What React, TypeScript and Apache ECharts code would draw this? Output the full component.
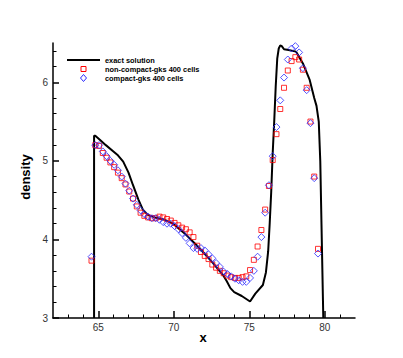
import React, { useEffect, useRef } from "react";
import * as echarts from "echarts";

// exact solution
const exactX = [64.72, 64.72, 64.8, 65.1, 65.5, 66.0, 66.3, 66.65, 67.0, 67.3, 67.65, 67.95, 68.3, 68.75, 69.4, 69.95, 70.7, 71.6, 72.5, 73.25, 73.5, 73.75, 74.0, 74.5, 75.05, 75.4, 75.9, 76.1, 76.25, 76.35, 76.45, 76.55, 76.65, 76.75, 76.85, 76.95, 77.05, 77.15, 77.3, 77.6, 78.1, 78.55, 79.0, 79.3, 79.45, 79.6, 79.7, 79.78, 79.84, 79.9];
const exactY = [3.0, 5.32, 5.32, 5.27, 5.2, 5.12, 5.07, 4.99, 4.85, 4.69, 4.51, 4.38, 4.31, 4.28, 4.25, 4.2, 4.08, 3.91, 3.72, 3.55, 3.47, 3.38, 3.33, 3.28, 3.21, 3.31, 3.42, 3.58, 3.85, 4.2, 4.6, 5.1, 5.5, 5.95, 6.3, 6.43, 6.47, 6.46, 6.42, 6.41, 6.39, 6.24, 6.03, 5.8, 5.7, 5.5, 5.0, 4.2, 3.6, 3.0];

// cell centres (x) shared by both schemes
const cellX = [64.55, 64.8, 65.05, 65.3, 65.55, 65.8, 66.05, 66.3, 66.55, 66.8, 67.05, 67.3, 67.55, 67.8, 68.05, 68.3, 68.55, 68.8, 69.05, 69.3, 69.55, 69.8, 70.05, 70.3, 70.55, 70.8, 71.05, 71.3, 71.55, 71.8, 72.05, 72.3, 72.55, 72.8, 73.05, 73.3, 73.55, 73.8, 74.05, 74.3, 74.55, 74.8, 75.05, 75.3, 75.55, 75.8, 76.05, 76.3, 76.55, 76.8, 77.05, 77.3, 77.55, 77.8, 78.05, 78.3, 78.55, 78.8, 79.05, 79.3, 79.55];
const nonCompactY = [3.73, 5.2, 5.19, 5.1, 5.04, 4.98, 4.92, 4.85, 4.78, 4.7, 4.61, 4.52, 4.42, 4.34, 4.3, 4.28, 4.27, 4.27, 4.29, 4.28, 4.26, 4.24, 4.21, 4.18, 4.15, 4.13, 4.09, 4.03, 3.92, 3.84, 3.79, 3.75, 3.68, 3.64, 3.6, 3.57, 3.54, 3.52, 3.51, 3.51, 3.52, 3.53, 3.61, 3.74, 3.91, 4.12, 4.38, 4.68, 5.01, 5.34, 5.66, 5.93, 6.15, 6.27, 6.32, 6.29, 6.16, 5.93, 5.5, 4.8, 3.88];
const compactY = [3.78, 5.2, 5.2, 5.12, 5.06, 5.0, 4.95, 4.88, 4.8, 4.71, 4.62, 4.52, 4.44, 4.37, 4.32, 4.29, 4.27, 4.27, 4.25, 4.22, 4.2, 4.2, 4.17, 4.13, 4.08, 4.02, 3.95, 3.89, 3.88, 3.89, 3.86, 3.81, 3.76, 3.7, 3.65, 3.59, 3.56, 3.53, 3.5, 3.48, 3.46, 3.46, 3.51, 3.6, 3.78, 4.03, 4.34, 4.69, 5.06, 5.43, 5.77, 6.06, 6.29, 6.43, 6.46, 6.38, 6.18, 5.9, 5.48, 4.78, 3.82];

// ticks
const xMajor = [65, 70, 75, 80];
const xMinor = [63, 64, 66, 67, 68, 69, 71, 72, 73, 74, 76, 77, 78, 79, 81];
const yMajor = [3, 4, 5, 6];
const yMinor = [3.2, 3.4, 3.6, 3.8, 4.2, 4.4, 4.6, 4.8, 5.2, 5.4, 5.6, 5.8, 6.2, 6.4];

// legend
const legendNames = ["exact solution", "non-compact-gks 400 cells", "compact-gks 400 cells"];

const FONT = "Liberation Sans, Arial, sans-serif";
const RED = "#f00";
const BLUE = "#2a2aff";

export default function App() {
  const ref = useRef<HTMLDivElement>(null);
  useEffect(() => {
    if (!ref.current) return;
    const chart = echarts.init(ref.current, undefined, { renderer: "svg" });
    const xMin = 62, xMax = 82, yMin = 3, yMax = 6.5;
    const lx0 = 67, lx1 = 100, lcx = 83.5, ltx = 105;
    const rows = [60, 69, 78];
    const legendText = legendNames.map((name, i) => ({
      type: "text", x: ltx, y: rows[i],
      style: { text: name, font: `bold 7.4px ${FONT}`, fill: "#000", align: "left", verticalAlign: "middle" },
    }));
    chart.setOption({
      animation: false,
      backgroundColor: "#fff",
      grid: { left: 53, right: 48, top: 43, bottom: 40, containLabel: false },
      xAxis: [
        {
          type: "value", min: xMin, max: xMax, position: "bottom",
          axisLine: { show: true, onZero: false, lineStyle: { color: "#000", width: 1.5 } },
          axisTick: { show: true, inside: true, length: 7, customValues: xMajor, lineStyle: { color: "#000", width: 1.5 } },
          axisLabel: { show: true, customValues: xMajor, margin: 4, fontSize: 10, color: "#333", fontFamily: FONT },
          splitLine: { show: false },
        },
        {
          type: "value", min: xMin, max: xMax, position: "bottom",
          axisLine: { show: false },
          axisTick: { show: true, inside: true, length: 3.5, customValues: xMinor, lineStyle: { color: "#000", width: 1 } },
          axisLabel: { show: false },
          splitLine: { show: false },
        },
      ],
      yAxis: [
        {
          type: "value", min: yMin, max: yMax, position: "left",
          axisLine: { show: true, onZero: false, lineStyle: { color: "#000", width: 1.5 } },
          axisTick: { show: true, inside: true, length: 6, customValues: yMajor, lineStyle: { color: "#000", width: 1.5 } },
          axisLabel: { show: true, customValues: yMajor, margin: 5, fontSize: 10, color: "#333", fontFamily: FONT },
          splitLine: { show: false },
        },
        {
          type: "value", min: yMin, max: yMax, position: "left",
          axisLine: { show: false },
          axisTick: { show: true, inside: true, length: 3.5, customValues: yMinor, lineStyle: { color: "#000", width: 1 } },
          axisLabel: { show: false },
          splitLine: { show: false },
        },
      ],
      graphic: [
        {
          type: "text", x: 25, y: 177, rotation: Math.PI / 2,
          style: { text: "density", font: `bold 13px ${FONT}`, fill: "#000", align: "center", verticalAlign: "middle" },
        },
        {
          type: "text", x: 203, y: 337,
          style: { text: "x", font: `bold 13px ${FONT}`, fill: "#000", align: "center", verticalAlign: "middle" },
        },
        {
          type: "line", shape: { x1: lx0, y1: rows[0], x2: lx1, y2: rows[0] },
          style: { stroke: "#000", lineWidth: 2 },
        },
        {
          type: "rect", shape: { x: lcx - 2.5, y: rows[1] - 2.5, width: 5, height: 5 },
          style: { fill: "none", stroke: RED, lineWidth: 1 },
        },
        {
          type: "polygon",
          shape: { points: [[lcx, rows[2] - 3.5], [lcx + 3, rows[2]], [lcx, rows[2] + 3.5], [lcx - 3, rows[2]]] },
          style: { fill: "none", stroke: BLUE, lineWidth: 1 },
        },
        ...legendText,
      ],
      series: [
        {
          name: legendNames[0],
          type: "line",
          data: exactX.map((x, i) => [x, exactY[i]]),
          showSymbol: false,
          symbol: "none",
          lineStyle: { color: "#000", width: 2 },
          itemStyle: { color: "#000" },
          z: 2,
        },
        {
          name: legendNames[1],
          type: "scatter",
          data: cellX.map((x, i) => [x, nonCompactY[i]]),
          symbol: "rect",
          symbolSize: 5,
          itemStyle: { color: "rgba(0,0,0,0)", borderColor: RED, borderWidth: 1 },
          z: 3,
        },
        {
          name: legendNames[2],
          type: "scatter",
          data: cellX.map((x, i) => [x, compactY[i]]),
          symbol: "diamond",
          symbolSize: 7,
          itemStyle: { color: "rgba(0,0,0,0)", borderColor: BLUE, borderWidth: 1 },
          z: 4,
        },
      ],
    });
    return () => chart.dispose();
  }, []);
  return <div ref={ref} style={{ position: "fixed", left: 0, top: 0, width: 403, height: 358 }} />;
}
